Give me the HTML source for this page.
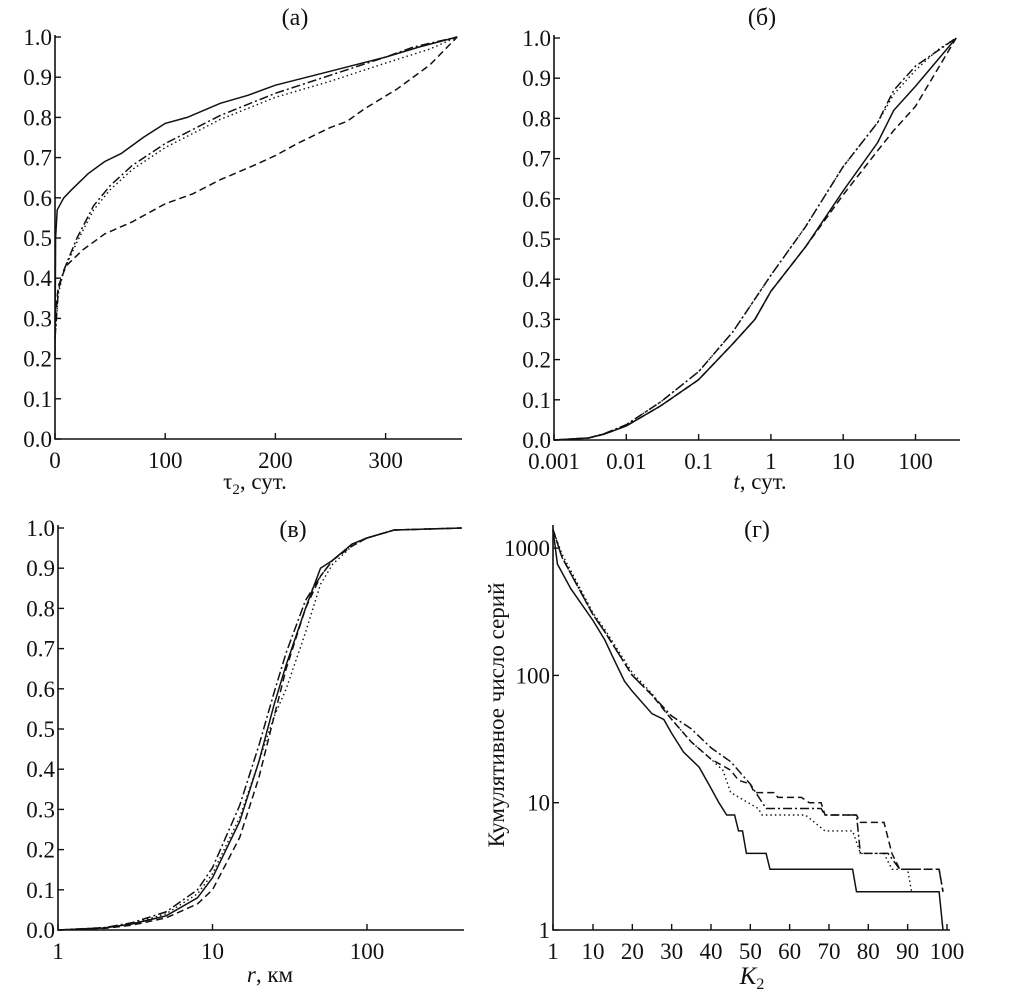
<!DOCTYPE html>
<html><head><meta charset="utf-8">
<style>
html,body{margin:0;padding:0;background:#fff;}
svg{display:block;font-family:"Liberation Serif",serif;}
text{fill:#111;}
</style></head>
<body>
<svg id="fig" width="1014" height="1000" viewBox="0 0 1014 1000" xmlns="http://www.w3.org/2000/svg"></svg>
<script>
// ---- Panel (a) data: tau2 (days) vs cumulative fraction
const aSolidX=[0,0.5,2,8,15,30,45,60,80,100,120,150,175,200,250,300,330,365];
const aSolidY=[0.2,0.5,0.57,0.6,0.62,0.66,0.69,0.71,0.75,0.785,0.8,0.835,0.855,0.88,0.915,0.95,0.975,1.0];
const aDashdotX=[0,3,8,20,35,50,70,100,125,150,200,250,300,325,365];
const aDashdotY=[0.25,0.37,0.42,0.5,0.58,0.63,0.68,0.735,0.77,0.805,0.86,0.905,0.95,0.975,1.0];
const aDotX=[0,3,8,20,35,50,70,100,125,150,200,250,300,340,365];
const aDotY=[0.25,0.36,0.42,0.49,0.57,0.62,0.67,0.725,0.76,0.795,0.85,0.89,0.935,0.97,1.0];
const aDashX=[0,3,10,25,45,70,100,125,150,180,200,220,250,265,280,310,340,365];
const aDashY=[0.3,0.38,0.43,0.47,0.51,0.54,0.585,0.61,0.645,0.68,0.705,0.735,0.775,0.79,0.82,0.87,0.93,1.0];
const aXTicks=[0,100,200,300];
const fracTicks=[0,0.1,0.2,0.3,0.4,0.5,0.6,0.7,0.8,0.9,1.0];
// ---- Panel (b) data: t (days, log) vs fraction
const bSolidX=[0.001,0.003,0.005,0.01,0.03,0.1,0.3,0.6,1,3,10,30,50,100,365];
const bSolidY=[0,0.005,0.015,0.035,0.085,0.15,0.24,0.3,0.37,0.48,0.62,0.74,0.82,0.88,1.0];
const bDashX=[0.001,0.003,0.005,0.01,0.03,0.1,0.3,0.6,1,3,10,30,50,100,365];
const bDashY=[0,0.005,0.015,0.035,0.085,0.15,0.24,0.3,0.37,0.48,0.61,0.72,0.77,0.83,1.0];
const bDashdotX=[0.001,0.003,0.005,0.01,0.03,0.1,0.3,1,3,10,30,50,100,365];
const bDashdotY=[0,0.005,0.016,0.038,0.095,0.17,0.27,0.41,0.53,0.68,0.79,0.87,0.93,1.0];
const bDotX=[0.001,0.003,0.005,0.01,0.03,0.1,0.3,1,3,10,30,50,100,200,365];
const bDotY=[0,0.005,0.016,0.038,0.095,0.17,0.27,0.41,0.53,0.68,0.79,0.86,0.92,0.97,1.0];
const bXTicks=[0.001,0.01,0.1,1,10,100];
const bXLabels=["0.001","0.01","0.1","1","10","100"];
// ---- Panel (v) data: r (km, log) vs fraction
const cSolidX=[1,2,3,5,8,10,15,20,25,30,40,50,60,80,100,150,410];
const cSolidY=[0,0.005,0.015,0.035,0.08,0.13,0.27,0.42,0.56,0.66,0.8,0.9,0.92,0.96,0.975,0.995,1.0];
const cDashX=[1,2,3,5,8,10,15,20,25,30,40,50,60,80,100,150,410];
const cDashY=[0,0.004,0.012,0.03,0.065,0.1,0.23,0.38,0.53,0.65,0.8,0.88,0.92,0.955,0.975,0.995,1.0];
const cDashdotX=[1,2,3,5,8,10,15,20,25,30,40,50,60,80,100,150,410];
const cDashdotY=[0,0.006,0.018,0.045,0.1,0.155,0.31,0.46,0.59,0.69,0.82,0.88,0.92,0.96,0.975,0.995,1.0];
const cDotX=[1,2,3,5,8,10,15,20,25,30,40,50,60,80,100,150,410];
const cDotY=[0,0.006,0.016,0.04,0.09,0.14,0.28,0.42,0.53,0.6,0.74,0.86,0.91,0.955,0.975,0.995,1.0];
const cXTicks=[1,10,100];
// ---- Panel (g) data: K2 vs cumulative number of series (log)
const dSolidX=[1,2,5,10,13,15,18,20,25,28,30,33,37,40,42,44,46,47,48,49,54,55,76,77,98,99];
const dSolidY=[1400,750,480,270,190,140,90,75,50,45,35,25,19,13,10,8,8,6,6,4,4,3,3,2,2,1];
const dDashX=[1,3,10,13,20,25,30,35,40,45,47,50,51,56,57,63,65,68,69,77,78,84,86,88,98,99];
const dDashY=[1400,850,300,220,100,70,45,30,22,18,15,14,12,12,11,11,10,10,8,8,7,7,4,3,3,2];
const dDashdotX=[1,3,10,13,20,25,30,35,40,45,50,54,68,69,77,78,85,88,98,99];
const dDashdotY=[1400,850,300,220,100,70,48,38,27,21,14,9,9,8,8,4,4,3,3,2];
const dDotX=[1,3,10,13,20,25,30,35,40,43,45,52,53,64,69,76,78,84,86,90,91];
const dDotY=[1400,900,310,230,105,72,45,30,22,18,12,9,8,8,6,6,4,4,3,3,2];
const dXTicks=[1,10,20,30,40,50,60,70,80,90,100];
const dYTicks=[1,10,100,1000];

const NS="http://www.w3.org/2000/svg";
const svg=document.getElementById('fig');
function mk(tag,attrs,parent){const e=document.createElementNS(NS,tag);for(const k in attrs)e.setAttribute(k,attrs[k]);(parent||svg).appendChild(e);return e;}
const styles={solid:"",dash:"7,4",dashdot:"9,3,2,3",dot:"1.5,3"};

function panel(cfg){
  const g=mk('g',{});
  
  
  const sx=cfg.sx, sy=cfg.sy;
  const ax=mk('path',{d:`M${cfg.x0},${cfg.yTop} V${cfg.yBot} H${cfg.xRight}`,stroke:'#111','stroke-width':1.6,fill:'none'},g);
  
  
  cfg.xt.forEach((v,i)=>{
    const x=sx(v);
    mk('line',{x1:x,y1:cfg.yBot,x2:x,y2:cfg.yBot-6,stroke:'#111','stroke-width':1.4},g);
    const t=mk('text',{x:x,y:cfg.yBot+29,'font-size':23,'text-anchor':'middle'},g);
    t.textContent=cfg.xl[i];
    
    
  });
  cfg.yt.forEach((v,i)=>{
    const y=sy(v);
    mk('line',{x1:cfg.x0,y1:y,x2:cfg.x0+6,y2:y,stroke:'#111','stroke-width':1.4},g);
    const t=mk('text',{x:cfg.x0-3,y:y+8,'font-size':23,'text-anchor':'end'},g);
    t.textContent=cfg.yl[i];
    
    
  });
  cfg.series.forEach(s=>{
    const pts=s.x.map((v,i)=>sx(v).toFixed(1)+','+sy(s.y[i]).toFixed(1)).join(' ');
    const p=mk('polyline',{points:pts,fill:'none',stroke:'#111','stroke-width':s.st==='dot'?1.4:1.5},g);
    if(styles[s.st])p.setAttribute('stroke-dasharray',styles[s.st]);
    
    
  });
  const ti=mk('text',{x:cfg.tx,y:cfg.ty,'font-size':24,'text-anchor':'middle'},g);
  ti.textContent=cfg.title;
  
  
  const xl=mk('text',{x:cfg.lx,y:cfg.ly,'font-size':cfg.lfs||23,'text-anchor':'middle'},g);
  xl.innerHTML=cfg.xlabel;
  
  
}
const fl=fracTicks.map(v=>v.toFixed(1));
const log=Math.log10;
// (a)
panel({name:'panel-a',x0:55,yTop:35,yBot:439,xRight:462,
  sx:v=>55+v*1.102,sy:v=>439-v*402,xt:aXTicks,xl:aXTicks.map(String),yt:fracTicks,yl:fl,
  series:[{x:aSolidX,y:aSolidY,st:'solid',n:'series-solid'},{x:aDashdotX,y:aDashdotY,st:'dashdot',n:'series-dashdot'},{x:aDotX,y:aDotY,st:'dot',n:'series-dotted'},{x:aDashX,y:aDashY,st:'dash',n:'series-dashed'}],
  title:'(а)',tx:295,ty:25,xlabel:'τ<tspan font-size="15" dy="5">2</tspan><tspan dy="-5">, сут.</tspan>',lx:255,ly:489});
// (b)
panel({name:'panel-b',x0:554,yTop:35,yBot:440,xRight:960,
  sx:v=>554+(log(v)+3)*72.3,sy:v=>440-v*402,xt:bXTicks,xl:bXLabels,yt:fracTicks,yl:fl,
  series:[{x:bSolidX,y:bSolidY,st:'solid',n:'series-solid'},{x:bDashX,y:bDashY,st:'dash',n:'series-dashed'},{x:bDashdotX,y:bDashdotY,st:'dashdot',n:'series-dashdot'},{x:bDotX,y:bDotY,st:'dot',n:'series-dotted'}],
  title:'(б)',tx:762,ty:25,xlabel:'<tspan font-style="italic">t</tspan>, сут.',lx:760,ly:489});
// (v)
panel({name:'panel-v',x0:58,yTop:525,yBot:930,xRight:464,
  sx:v=>58+log(v)*154.5,sy:v=>930-v*402,xt:cXTicks,xl:cXTicks.map(String),yt:fracTicks,yl:fl,
  series:[{x:cSolidX,y:cSolidY,st:'solid',n:'series-solid'},{x:cDashX,y:cDashY,st:'dash',n:'series-dashed'},{x:cDashdotX,y:cDashdotY,st:'dashdot',n:'series-dashdot'},{x:cDotX,y:cDotY,st:'dot',n:'series-dotted'}],
  title:'(в)',tx:293,ty:537,xlabel:'<tspan font-style="italic">r</tspan>, км',lx:270,ly:982});
// (g)
panel({name:'panel-g',x0:553,yTop:525,yBot:930,xRight:950,
  sx:v=>v<10?553+(v-1)*(40/9):593+(v-10)*3.933,sy:v=>930-log(v)*127.3,xt:dXTicks,xl:dXTicks.map(String),yt:dYTicks,yl:dYTicks.map(String),
  series:[{x:dSolidX,y:dSolidY,st:'solid',n:'series-solid'},{x:dDashX,y:dDashY,st:'dash',n:'series-dashed'},{x:dDashdotX,y:dDashdotY,st:'dashdot',n:'series-dashdot'},{x:dDotX,y:dDotY,st:'dot',n:'series-dotted'}],
  title:'(г)',tx:757,ty:537,lfs:25,xlabel:'<tspan font-style="italic">K</tspan><tspan font-size="16" dy="5">2</tspan>',lx:752,ly:984});
const yl=mk('text',{x:0,y:0,'font-size':23,'text-anchor':'middle',transform:'translate(504,715) rotate(-90)'});
yl.textContent='Кумулятивное число серий';


</script>
</body></html>
